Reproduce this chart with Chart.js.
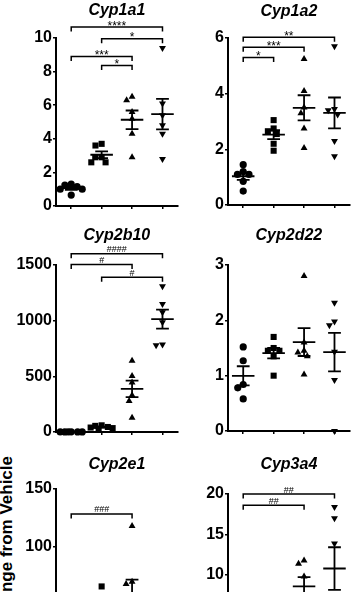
<!DOCTYPE html>
<html><head><meta charset="utf-8">
<script src="https://cdn.jsdelivr.net/npm/chart.js@4"></script>
<style>
html,body{margin:0;padding:0;background:#fff;overflow:hidden;width:359px;height:592px;}
canvas{position:absolute;}
#ylab{position:absolute;font:bold 17px "Liberation Sans",Arial,sans-serif;white-space:nowrap;text-align:right;width:300px;line-height:16px;transform-origin:100% 0;transform:rotate(-90deg);color:#000;}
</style></head><body>
<div id="ylab">Fold Change from Vehicle</div>
<canvas id="c0"></canvas><canvas id="c1"></canvas><canvas id="c2"></canvas>
<canvas id="c3"></canvas><canvas id="c4"></canvas><canvas id="c5"></canvas>
<script>
// ---------- data ----------
const groups = [1, 2, 3, 4];
const titles = ['Cyp1a1', 'Cyp1a2', 'Cyp2b10', 'Cyp2d22', 'Cyp2e1', 'Cyp3a4'];
const yMax = [10, 6, 1500, 3, 150, 20];
const yStep = [2, 2, 500, 1, 50, 5];

const cyp1a1 = [
  [1.25, 1.0, 0.65, 1.15, 1.0, 1.3],
  [3.7, 3.6, 2.9, 2.6, 2.6, 2.9],
  [6.5, 6.3, 5.6, 5.2, 4.3, 2.9],
  [9.4, 6.1, 5.4, 4.8, 4.3, 2.8]
];
const cyp1a2 = [
  [1.2, 1.45, 1.1, 1.1, 0.85, 0.5],
  [3.05, 2.75, 2.65, 2.55, 2.2, 1.95],
  [5.25, 4.1, 3.5, 3.3, 2.75, 2.05],
  [5.7, 3.45, 3.25, 3.4, 2.3, 1.75]
];
const cyp2b10 = [
  [1.2, 0.8, 1.0, 0.9, 1.1, 1.0],
  [55, 45, 40, 35, 60, 30],
  [639, 504, 444, 330, 279, 129],
  [1310, 1150, 1075, 985, 780, 785]
];
const cyp2d22 = [
  [1.52, 1.27, 0.84, 0.78, 0.58],
  [1.7, 1.45, 1.5, 1.45, 1.35, 1.0],
  [2.8, 1.6, 1.42, 1.45, 1.35, 1.02],
  [2.32, 1.98, 1.91, 1.43, 0.92, 0.0]
];
const cyp2e1 = [
  [1.2, 0.9, 1.0, 0.8, 1.1, 1.0],
  [66, 50, 42, 35, 30, 25],
  [118, 70, 68, 38, 28, 20],
  [55, 40, 30, 25, 20, 15]
];
const cyp3a4 = [
  [1.3, 0.8, 1.0, 0.9, 1.1, 0.9],
  [3.5, 2.8, 2.2, 1.9, 1.6, 1.2],
  [11.8, 11.4, 9.8, 7.2, 6.0, 5.4],
  [18.4, 17.0, 13.9, 7.0, 5.0, 3.5]
];
// significance brackets: [fromGroup, toGroup, value, label]
const sig1a1 = [[1, 4, 10.65, '****'], [2, 4, 9.95, '*'], [1, 3, 8.9, '***'], [2, 3, 8.37, '*']];
const sig1a2 = [[1, 4, 6.03, '**'], [1, 3, 5.67, '***'], [1, 2, 5.3, '*']];
const sig2b10 = [[1, 4, 1600, '####'], [1, 3, 1505, '#'], [2, 4, 1390, '#']];
const sig2d22 = [];
const sig2e1 = [[1, 3, 128.5, '###']];
const sig3a4 = [[1, 4, 20.0, '##'], [1, 3, 18.6, '##']];

const panelData = [cyp1a1, cyp1a2, cyp2b10, cyp2d22, cyp2e1, cyp3a4];
const panelSig = [sig1a1, sig1a2, sig2b10, sig2d22, sig2e1, sig3a4];

// ---------- layout & style ----------
const FONT = '"Liberation Sans", Arial, Helvetica, sans-serif';
const layout = [
  {x: 0,   y: 0,   w: 182, h: 226, pt: 38, ty: 10.5},
  {x: 172, y: 0,   w: 182, h: 225, pt: 38, ty: 12},
  {x: 0,   y: 215, w: 182, h: 237, pt: 50, ty: 236},
  {x: 172, y: 215, w: 182, h: 236, pt: 50, ty: 235.5},
  {x: 0,   y: 440, w: 182, h: 243, pt: 49, ty: 465},
  {x: 172, y: 440, w: 182, h: 236, pt: 54, ty: 465}
];
const markers = [
  {style: 'circle', rot: 0, r: 3.6},
  {style: 'rect', rot: 0, r: 4.3},
  {style: 'triangle', rot: 0, r: 4.0},
  {style: 'triangle', rot: 180, r: 4.0}
];

const ylab = document.getElementById('ylab');
ylab.style.left = (-300 - 1) + 'px';
ylab.style.top = '456px';

function makeDeco(i) {
  const L = layout[i];
  return {
    id: 'deco' + i,
    afterDatasetsUpdate(chart) {
      const D = 6.4, M = 11;
      chart.data.datasets.forEach((ds, g) => {
        const els = chart.getDatasetMeta(g).data;
        const order = els.map((e, k) => k).sort((a, b) => els[a].y - els[b].y);
        const placed = [];
        order.forEach(k => {
          const e = els[k];
          const ok = c => placed.every(p => {
            const dy = p.y - e.y, dx = p.o - c;
            return dx * dx + dy * dy >= D * D - 0.01;
          });
          const cands = [0];
          placed.forEach(p => {
            const dy = Math.abs(p.y - e.y);
            if (dy < D) { const w = Math.sqrt(D * D - dy * dy); cands.push(p.o - w, p.o + w); }
          });
          cands.sort((a, b) => Math.abs(a) - Math.abs(b) || a - b);
          let best = null;
          for (const c of cands) { if (Math.abs(c) > M) break; if (ok(c)) { best = c; break; } }
          if (best === null) {
            let bd = -1;
            for (let c = -M; c <= M; c += 0.5) {
              let md = Infinity;
              placed.forEach(p => { const dy = p.y - e.y, dx = p.o - c; md = Math.min(md, dx * dx + dy * dy); });
              if (md > bd) { bd = md; best = c; }
            }
          }
          placed.push({y: e.y, o: best});
          e.x = e.x + best;
        });
      });
    },
    afterDatasetsDraw(chart) {
      const ctx = chart.ctx, xs = chart.scales.x, ys = chart.scales.y, ca = chart.chartArea;
      const cw = xs.getPixelForValue(2) - xs.getPixelForValue(1);
      ctx.save();
      ctx.strokeStyle = '#000';
      ctx.fillStyle = '#000';
      // mean +/- SEM
      chart.data.datasets.forEach((ds, g) => {
        const v = ds.data.map(p => p.y);
        const n = v.length;
        const mean = v.reduce((a, b) => a + b, 0) / n;
        const sd = Math.sqrt(v.reduce((a, b) => a + (b - mean) * (b - mean), 0) / (n - 1));
        const sem = sd / Math.sqrt(n);
        const cx = xs.getPixelForValue(groups[g]);
        const ym = ys.getPixelForValue(mean), yu = ys.getPixelForValue(mean + sem), yl = ys.getPixelForValue(mean - sem);
        ctx.lineWidth = 1.8;
        ctx.beginPath();
        ctx.moveTo(cx - 0.37 * cw, ym); ctx.lineTo(cx + 0.37 * cw, ym);
        ctx.moveTo(cx - 0.21 * cw, yu); ctx.lineTo(cx + 0.21 * cw, yu);
        ctx.moveTo(cx - 0.21 * cw, yl); ctx.lineTo(cx + 0.21 * cw, yl);
        ctx.moveTo(cx, yu); ctx.lineTo(cx, yl);
        ctx.stroke();
      });
      // significance brackets
      panelSig[i].forEach(([a, b, val, label]) => {
        const x1 = xs.getPixelForValue(a), x2 = xs.getPixelForValue(b), y = ys.getPixelForValue(val);
        ctx.lineWidth = 1.5;
        ctx.beginPath();
        ctx.moveTo(x1, y + 4.5); ctx.lineTo(x1, y); ctx.lineTo(x2, y); ctx.lineTo(x2, y + 4.5);
        ctx.stroke();
        const star = label.indexOf('*') >= 0;
        ctx.font = (star ? '12px ' : '9px ') + FONT;
        ctx.textAlign = 'center';
        ctx.textBaseline = 'alphabetic';
        const m = ctx.measureText(label);
        ctx.fillText(label, (x1 + x2) / 2, y - 1.5 - m.actualBoundingBoxDescent);
      });
      // panel title
      ctx.font = 'italic bold 16px ' + FONT;
      ctx.textAlign = 'center';
      ctx.textBaseline = 'middle';
      ctx.fillText(titles[i], (ca.left + ca.right) / 2, L.ty - L.y);
      ctx.restore();
    }
  };
}

function makePanel(i) {
  const L = layout[i];
  const cv = document.getElementById('c' + i);
  cv.width = L.w; cv.height = L.h;
  cv.style.left = L.x + 'px'; cv.style.top = L.y + 'px';
  cv.style.width = L.w + 'px'; cv.style.height = L.h + 'px';
  const tickGrid = {display: true, drawOnChartArea: false, drawTicks: true, tickLength: 3, color: '#000', lineWidth: 1.5};
  new Chart(cv, {
    type: 'scatter',
    data: {
      datasets: panelData[i].map((arr, g) => ({
        data: arr.map(v => ({x: groups[g], y: v})),
        pointStyle: markers[g].style,
        rotation: markers[g].rot,
        pointRadius: markers[g].r,
        backgroundColor: '#000',
        borderColor: '#000',
        borderWidth: 0,
        clip: false
      }))
    },
    options: {
      responsive: false,
      animation: false,
      events: [],
      layout: {padding: {top: L.pt, right: 1, left: 0, bottom: 0}},
      plugins: {legend: {display: false}, tooltip: {enabled: false}, title: {display: false}},
      scales: {
        x: {
          type: 'linear', min: 0.5, max: 4.5,
          afterBuildTicks: s => { s.ticks = groups.map(v => ({value: v})); },
          afterFit: s => { s.height = 20; },
          ticks: {display: false},
          grid: tickGrid,
          border: {display: true, color: '#000', width: 2}
        },
        y: {
          min: 0, max: yMax[i],
          ticks: {stepSize: yStep[i], color: '#000', padding: 1, callback: v => String(v),
                  font: {family: FONT, size: 16, weight: 'bold'}},
          afterFit: s => { s.width = 56; },
          grid: tickGrid,
          border: {display: true, color: '#000', width: 2}
        }
      }
    },
    plugins: [makeDeco(i)]
  });
}
for (let i = 0; i < 6; i++) makePanel(i);
</script>
</body></html>
